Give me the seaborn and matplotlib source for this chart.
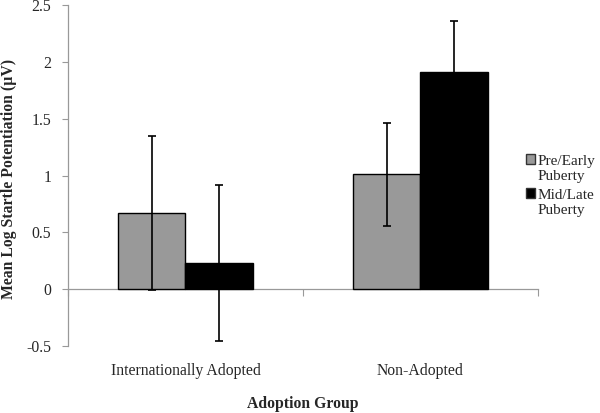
import seaborn as sns
import matplotlib.pyplot as plt
import pandas as pd

groups = ['Internationally Adopted', 'Non-Adopted']
stages = ['Pre/Early\nPuberty', 'Mid/Late\nPuberty']
pre_means = [0.67, 1.01]
mid_means = [0.23, 1.91]
pre_err = [0.68, 0.45]
mid_err = [0.69, 0.45]

df = pd.DataFrame({
    'group': groups * 2,
    'stage': [stages[0]] * 2 + [stages[1]] * 2,
    'mean': pre_means + mid_means,
    'err': pre_err + mid_err,
})

sns.set_theme(style='white')
plt.rcParams['font.family'] = ['Liberation Serif', 'DejaVu Serif']
fs = 11.3

fig = plt.figure(figsize=(6, 4.13), dpi=100)
ax = fig.add_axes([0.1133, 0.1622, 0.7833, 0.8257])

sns.barplot(data=df, x='group', y='mean', hue='stage', order=groups,
            hue_order=stages, palette=['#999999', '#000000'],
            edgecolor='black', linewidth=1.0, width=0.575,
            errorbar=None, ax=ax)

# error bars on top of each bar (seaborn draws patches in hue order)
bars = [p for p in ax.patches if p.get_height() != 0][:4]
for bar, (_, row) in zip(bars, df.iterrows()):
    cx = bar.get_x() + bar.get_width() / 2
    ax.errorbar(cx, row['mean'], yerr=row['err'], color='black',
                elinewidth=1.2, capsize=3, capthick=1.2, zorder=5)

ax.set_xlim(-0.5, 1.5)
ax.set_ylim(-0.5, 2.5)
ax.set_yticks([-0.5, 0, 0.5, 1, 1.5, 2, 2.5])
ax.set_yticklabels(['-0.5', '0', '0.5', '1', '1.5', '2', '2.5'], fontsize=fs)
ax.tick_params(axis='y', length=4, width=0.8, color='#999999', pad=8, left=True)
ax.tick_params(axis='x', length=0, pad=12, labelsize=fs)

for s in ['top', 'right', 'bottom']:
    ax.spines[s].set_visible(False)
ax.spines['left'].set_color('#999999')
ax.spines['left'].set_linewidth(0.9)

# zero line with group boundary ticks
zero = ax.secondary_xaxis(1 / 6)
zero.set_xticks([-0.5, 0.5, 1.5])
zero.set_xticklabels([])
zero.tick_params(length=5, width=0.8, color='#999999', direction='out')
zero.spines['bottom'].set_color('#999999')
zero.spines['bottom'].set_linewidth(0.9)

ax.set_xlabel('Adoption Group', fontsize=fs, fontweight='bold')
ax.xaxis.set_label_coords(0.5, -0.148)
ax.set_ylabel('Mean Log Startle Potentiation (\u00b5V)', fontsize=fs,
              fontweight='bold')
ax.yaxis.set_label_coords(-0.108, 0.49)

lfs = 11
leg = ax.legend(loc='center left', bbox_to_anchor=(0.974, 0.47), frameon=False,
                fontsize=lfs, handlelength=0.6, handleheight=0.6,
                handletextpad=0.2, labelspacing=0.4, borderaxespad=0,
                borderpad=0)
for t in leg.get_texts():
    t.set_linespacing(1.2)
# align the swatch with the first line of each two-line label
for p in leg.get_patches():
    p.set_y(p.get_y() + 0.6 * lfs)
    p.set_edgecolor('#333333')

fig.savefig('out.png', dpi=100)
